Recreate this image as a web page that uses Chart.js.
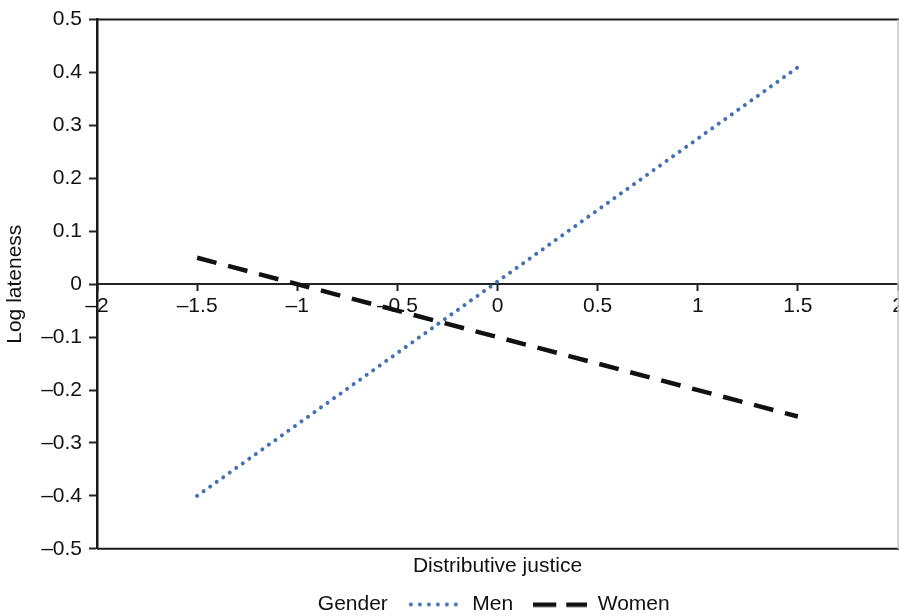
<!DOCTYPE html>
<html>
<head>
<meta charset="utf-8">
<script src="https://cdn.jsdelivr.net/npm/chart.js@4"></script>
<style>
body { margin: 0; background: #fff; }
#wrap { width: 899px; height: 616px; }
</style>
</head>
<body>
<div id="wrap"><canvas id="chart" width="899" height="616"></canvas></div>
<script>
// values
const xValues = [-1.5, 1.5];
const menValues = [-0.4, 0.41];
const womenValues = [0.05, -0.25];
const xTickValues = [-2, -1.5, -1, -0.5, 0, 0.5, 1, 1.5, 2];
const yTickValues = [-0.5, -0.4, -0.3, -0.2, -0.1, 0, 0.1, 0.2, 0.3, 0.4, 0.5];
const seriesNames = ['Men', 'Women'];
const legendTitle = 'Gender';
const xTitle = 'Distributive justice';
const yTitle = 'Log lateness';

const menColor = '#4271b5';
const womenColor = '#111111';
const textColor = '#111111';
const font = { family: '"Liberation Sans", Arial, sans-serif', size: 21, weight: 'normal' };

function fmt(v) {
    const r = Math.round(v * 100) / 100;
    if (r === 0) return '0';
    return String(r).replace('-', '\u2013');
}

function points(xs, ys) {
    return xs.map((x, i) => ({ x: x, y: ys[i] }));
}

// small line samples used as legend symbols
function legendSample(kind) {
    const c = document.createElement('canvas');
    c.width = 54;
    c.height = 8;
    const g = c.getContext('2d');
    if (kind === 'dots') {
        g.fillStyle = menColor;
        for (let x = 3; x < 54; x += 9) {
            g.beginPath();
            g.arc(x, 4, 2, 0, Math.PI * 2);
            g.fill();
        }
    } else if (kind === 'dash') {
        g.fillStyle = womenColor;
        g.fillRect(0, 2, 23, 4.5);
        g.fillRect(33, 2, 21, 4.5);
    }
    return c;
}

// top / bottom / right edges of the plot box
const framePlugin = {
    id: 'frame',
    beforeDatasetsDraw(chart) {
        const a = chart.chartArea;
        const ctx = chart.ctx;
        ctx.save();
        ctx.strokeStyle = '#1a1a1a';
        ctx.lineWidth = 2;
        ctx.beginPath();
        ctx.moveTo(a.left, a.top);
        ctx.lineTo(a.right + 1, a.top);
        ctx.moveTo(a.left, a.bottom);
        ctx.lineTo(a.right + 1, a.bottom);
        ctx.stroke();
        ctx.strokeStyle = '#c8c8c8';
        ctx.lineWidth = 1.5;
        ctx.beginPath();
        ctx.moveTo(a.right, a.top);
        ctx.lineTo(a.right, a.bottom);
        ctx.stroke();
        ctx.restore();
    }
};

// the blank symbol in front of "Gender" pushes the row right, pull it back
const legendShift = {
    id: 'legendShift',
    afterLayout(chart) {
        chart.legend.left -= 36;
        chart.legend.right -= 36;
    }
};

const blank = document.createElement('canvas');
blank.width = 1;
blank.height = 1;

const chart = new Chart(document.getElementById('chart'), {
    type: 'line',
    data: {
        datasets: [
            {
                label: seriesNames[0],
                data: points(xValues, menValues),
                borderColor: menColor,
                borderWidth: 4,
                borderDash: [0.01, 8],
                borderCapStyle: 'round',
                pointRadius: 0,
                fill: false
            },
            {
                label: seriesNames[1],
                data: points(xValues, womenValues),
                borderColor: womenColor,
                borderWidth: 4.5,
                borderDash: [20, 12],
                pointRadius: 0,
                fill: false
            }
        ]
    },
    options: {
        responsive: false,
        animation: false,
        layout: { padding: { left: 0, top: 15, right: 1, bottom: -9 } },
        scales: {
            x: {
                type: 'linear',
                min: -2,
                max: 2,
                position: { y: 0 },
                afterBuildTicks: s => { s.ticks = xTickValues.map(v => ({ value: v })); },
                afterFit: s => { s.paddingLeft = 0; s.paddingRight = 0; },
                ticks: { autoSkip: false, maxRotation: 0, font: font, color: textColor, padding: 3, callback: v => fmt(v) },
                grid: { drawOnChartArea: false, drawTicks: true, tickLength: 6, tickWidth: 2, tickColor: '#222' },
                border: { color: '#222', width: 2 }
            },
            y: {
                type: 'linear',
                min: -0.5,
                max: 0.5,
                afterBuildTicks: s => { s.ticks = yTickValues.map(v => ({ value: v })); },
                afterFit: s => { s.width = 97; },
                ticks: { autoSkip: false, font: font, color: textColor, padding: 7, callback: v => fmt(v) },
                grid: { drawOnChartArea: false, drawTicks: true, tickLength: 8, tickWidth: 2, tickColor: '#222' },
                border: { color: '#1a1a1a', width: 2.5 },
                title: { display: true, text: yTitle, font: font, color: textColor, padding: { top: 3, bottom: 0 } }
            }
        },
        plugins: {
            tooltip: { enabled: false },
            title: {
                display: true,
                text: xTitle,
                position: 'bottom',
                fullSize: false,
                weight: 500,
                font: font,
                color: textColor,
                padding: { top: 5, bottom: -5 }
            },
            legend: {
                position: 'bottom',
                fullSize: false,
                labels: {
                    font: font,
                    color: textColor,
                    usePointStyle: true,
                    pointStyleWidth: 54,
                    padding: 20,
                    generateLabels: () => [
                        { text: legendTitle, pointStyle: blank, fillStyle: 'transparent', strokeStyle: 'transparent', lineWidth: 0, hidden: false, fontColor: textColor },
                        { text: seriesNames[0], pointStyle: legendSample('dots'), fillStyle: 'transparent', strokeStyle: 'transparent', lineWidth: 0, hidden: false, datasetIndex: 0, fontColor: textColor },
                        { text: seriesNames[1], pointStyle: legendSample('dash'), fillStyle: 'transparent', strokeStyle: 'transparent', lineWidth: 0, hidden: false, datasetIndex: 1, fontColor: textColor }
                    ]
                }
            }
        }
    },
    plugins: [framePlugin, legendShift]
});
</script>
</body>
</html>
